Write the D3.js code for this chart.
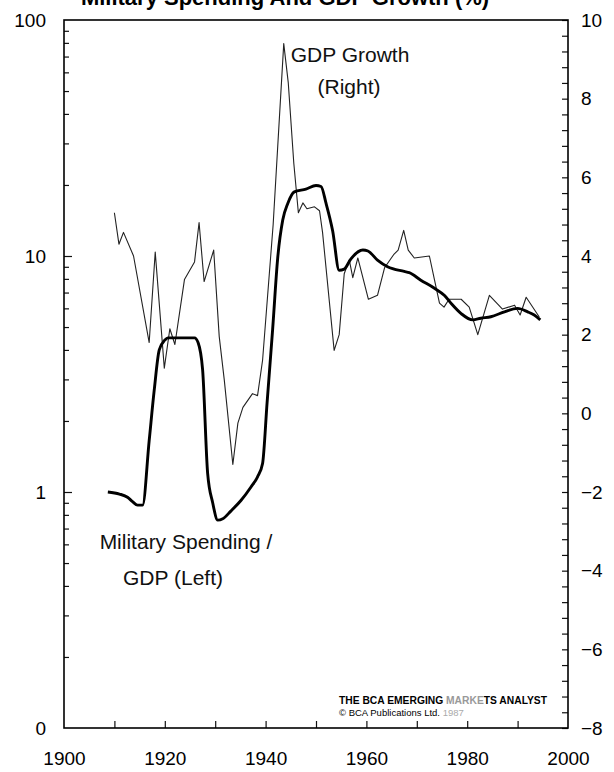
<!DOCTYPE html>
<html><head><meta charset="utf-8">
<script src="https://cdn.jsdelivr.net/npm/d3@7"></script>
<style>body{margin:0;background:#fff}svg{display:block}</style>
</head><body>
<script>
// Military spending / GDP (%), left log axis
const milYears  = [1908.7,1911.0,1912.6,1913.6,1914.6,1915.6,1916.9,1917.9,1918.9,1920.0,1920.6,1925.9,1926.6,1927.5,1928.5,1929.5,1930.5,1931.5,1933.1,1935.1,1937.1,1938.4,1939.4,1940.3,1941.4,1942.4,1943.4,1944.4,1945.7,1948.0,1950.0,1951.0,1952.0,1953.3,1954.6,1955.6,1956.9,1959.3,1960.3,1962.2,1964.2,1967.5,1968.5,1970.8,1973.5,1975.5,1976.8,1978.8,1981.1,1982.7,1984.7,1987.4,1990.0,1992.0,1993.3,1994.5];
const milValues = [1.0,0.98,0.95,0.91,0.88,0.88,1.65,2.7,4.0,4.4,4.5,4.5,4.3,3.3,1.2,0.9,0.76,0.77,0.83,0.92,1.05,1.16,1.32,2.4,4.9,9.8,14.2,16.7,18.7,19.2,19.9,19.7,16.7,12.8,8.7,8.8,9.7,10.6,10.5,9.6,9.0,8.6,8.5,7.9,7.3,6.8,6.3,5.7,5.36,5.45,5.53,5.8,6.0,5.8,5.62,5.36];
// GDP growth (%), right axis
const gdpYears  = [1910.0,1910.9,1911.8,1913.8,1916.9,1918.1,1919.9,1921.0,1922.0,1923.9,1925.9,1926.8,1927.8,1929.7,1930.8,1931.8,1933.5,1934.5,1935.5,1937.4,1938.4,1939.4,1941.5,1943.6,1944.5,1945.6,1946.5,1947.4,1948.2,1949.7,1950.7,1951.3,1953.6,1954.6,1955.6,1956.6,1957.3,1958.3,1960.4,1962.2,1963.6,1965.5,1966.3,1967.4,1968.3,1969.5,1972.5,1973.5,1974.5,1975.4,1976.4,1978.8,1980.4,1982.1,1984.4,1987.0,1989.4,1990.5,1991.7,1994.3];
const gdpValues = [5.1,4.3,4.6,4.0,1.8,4.1,1.15,2.15,1.75,3.4,3.85,4.85,3.35,4.15,1.95,0.85,-1.3,-0.25,0.15,0.5,0.45,1.35,4.8,9.4,8.4,6.35,5.1,5.35,5.2,5.25,5.15,4.6,1.6,2.0,3.55,3.9,3.45,3.95,2.9,3.0,3.7,4.05,4.15,4.65,4.15,3.95,4.0,3.4,2.8,2.7,2.9,2.9,2.7,2.0,3.0,2.65,2.75,2.5,2.95,2.45];

const xTickLabels = [1900,1920,1940,1960,1980,2000];
const xMinorTicks = [1910,1920,1930,1940,1950,1960,1970,1980,1990];
const leftTicks = [0.1,1,10,100];
const leftTickLabels = ["0","1","10","100"];
const rightTicks = [-8,-6,-4,-2,0,2,4,6,8,10];

const W = 614, H = 772;
const L = 64, R = 568, T = 20, B = 728;
const FONT = "'Liberation Sans', Arial, Helvetica, sans-serif";

const x = d3.scaleLinear().domain([1900,2000]).range([L,R]);
const yL = d3.scaleLog().domain([0.1,100]).range([B,T]);
const yR = d3.scaleLinear().domain([-8,10]).range([B,T]);

const svg = d3.select("body").append("svg").attr("width",W).attr("height",H)
  .style("font-family",FONT);

// title (cut off at the top edge, as in the scan)
svg.append("text").attr("x",285).attr("y",5).attr("text-anchor","middle")
  .attr("font-size",22).attr("font-weight","bold")
  .text("Military Spending And GDP Growth (%)");

// bottom axis labels
svg.append("g").attr("transform",`translate(0,${B})`)
  .call(d3.axisBottom(x).tickValues(xTickLabels).tickFormat(d3.format("d")).tickSize(0).tickPadding(24));
// bottom inward ticks
svg.append("g").attr("transform",`translate(0,${B})`)
  .call(d3.axisBottom(x).tickValues(xMinorTicks).tickSizeInner(-7).tickSizeOuter(0).tickFormat(""));

// left axis labels
svg.append("g").attr("transform",`translate(${L},0)`)
  .call(d3.axisLeft(yL).tickValues(leftTicks).tickFormat((d,i)=>leftTickLabels[i]).tickSize(0).tickPadding(18));
// left minor log ticks (inward)
const leftMinor = [];
[0.1,1,10].forEach(dec => { for (let k=2;k<=9;k++) leftMinor.push(dec*k); });
svg.append("g").attr("transform",`translate(${L},0)`)
  .call(d3.axisLeft(yL).tickValues(leftMinor).tickSizeInner(-5).tickSizeOuter(0).tickFormat(""));
svg.append("g").attr("transform",`translate(${L},0)`)
  .call(d3.axisLeft(yL).tickValues([1,10]).tickSizeInner(-8).tickSizeOuter(0).tickFormat(""));

// right axis labels
const yRAx = svg.append("g").attr("transform",`translate(${R},0)`)
  .call(d3.axisRight(yR).tickValues(rightTicks).tickFormat(d3.format("d")).tickSize(0).tickPadding(13));
// right inward ticks every 0.4
const rightMinor = d3.range(0,46).map(i => -8 + i*0.4);
svg.append("g").attr("transform",`translate(${R},0)`)
  .call(d3.axisRight(yR).tickValues(rightMinor).tickSizeInner(-6).tickSizeOuter(0).tickFormat(""));

svg.selectAll(".domain").remove();
svg.selectAll(".tick line").attr("stroke","#111").attr("stroke-width",1.2);
svg.selectAll(".tick text").attr("font-size",19).attr("fill","#000").style("font-family",FONT);
yRAx.selectAll(".tick text").attr("text-anchor","start");

// frame
svg.append("rect").attr("x",L).attr("y",T).attr("width",R-L).attr("height",B-T)
  .attr("fill","none").attr("stroke","#000").attr("stroke-width",1.6);

// lines
const gdpData = gdpYears.map((yr,i)=>({yr, v:gdpValues[i]}));
const milData = milYears.map((yr,i)=>({yr, v:milValues[i]}));

svg.append("path").datum(gdpData)
  .attr("d", d3.line().x(d=>x(d.yr)).y(d=>yR(d.v)))
  .attr("fill","none").attr("stroke","#222").attr("stroke-width",1.1).attr("stroke-linejoin","round");

svg.append("path").datum(milData)
  .attr("d", d3.line().curve(d3.curveMonotoneX).x(d=>x(d.yr)).y(d=>yL(d.v)))
  .attr("fill","none").attr("stroke","#000").attr("stroke-width",2.9).attr("stroke-linejoin","round");

// series labels
const lab = svg.append("g").attr("font-size",21).attr("fill","#111");
lab.append("text").attr("x",350).attr("y",62).attr("text-anchor","middle").text("GDP Growth");
lab.append("text").attr("x",349).attr("y",94).attr("text-anchor","middle").text("(Right)");
lab.append("text").attr("x",186).attr("y",549).attr("text-anchor","middle").text("Military Spending /");
lab.append("text").attr("x",173).attr("y",585).attr("text-anchor","middle").text("GDP (Left)");

// source note
const s1 = svg.append("text").attr("x",339).attr("y",704).attr("font-size",10)
  .attr("font-weight","bold").attr("textLength",208).attr("lengthAdjust","spacingAndGlyphs");
s1.append("tspan").text("THE BCA EMERGING ");
s1.append("tspan").attr("fill","#999").text("MARKE");
s1.append("tspan").text("TS ANALYST");
const s2 = svg.append("text").attr("x",339).attr("y",716).attr("font-size",9.5);
s2.append("tspan").text("© BCA Publications Ltd. ");
s2.append("tspan").attr("fill","#aaa").text("1987");
</script>
</body></html>
